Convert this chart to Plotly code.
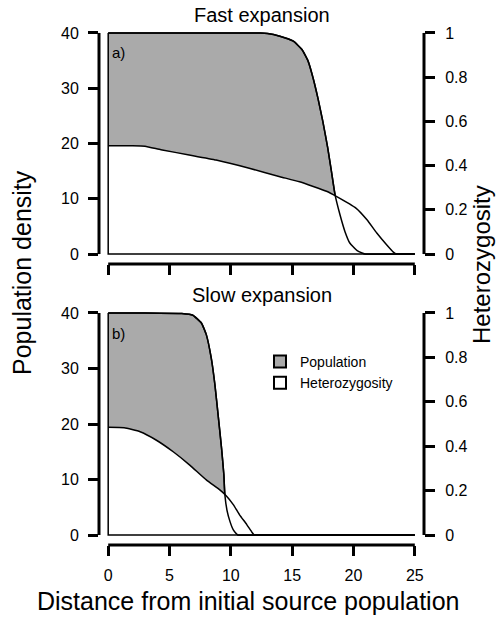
import plotly.graph_objects as go

# ---------------- data ----------------
x_ticks = [0, 5, 10, 15, 20, 25]
pop_ticks = [0, 10, 20, 30, 40]
het_ticks = [0, 0.2, 0.4, 0.6, 0.8, 1]
het_ticktext = ["0", "0.2", "0.4", "0.6", "0.8", "1"]

# Fast expansion (panel a)
fast_pop_x = [0, 5, 10, 12.4, 13.0, 14.0, 15.1, 15.8, 16.3, 16.7, 17.1, 17.5, 17.9,
              18.2, 18.5, 18.9, 19.3, 19.7, 20.3, 20.7, 21.0, 21.5, 25]
fast_pop_y = [40, 40, 40, 40, 39.9, 39.4, 38.5, 37.0, 34.9, 31.9, 28.2, 24.0, 19.2,
              15.0, 10.7, 7.1, 4.1, 2.0, 0.6, 0.2, 0, 0, 0]
fast_het_x = [0, 1, 2, 3, 4.3, 6.6, 8.8, 11.5, 14.0, 15.6, 17.8, 18.6, 20.2, 21.1,
              21.9, 22.7, 23.25, 23.5, 24.0, 25]
fast_het_y = [0.49, 0.49, 0.49, 0.488, 0.472, 0.448, 0.425, 0.388, 0.35, 0.327, 0.284,
              0.261, 0.208, 0.155, 0.095, 0.042, 0.009, 0, 0, 0]

# Slow expansion (panel b)
slow_pop_x = [0, 3, 6.0, 6.9, 7.6, 8.0, 8.4, 8.7, 8.96, 9.24, 9.43, 9.51, 9.7, 9.92,
              10.19, 10.46, 10.6, 11.1, 25]
slow_pop_y = [40, 40, 39.9, 39.6, 38.2, 36.1, 31.9, 27.1, 21.7, 15.7, 10.9, 7.3, 4.3,
              2.5, 0.96, 0.2, 0, 0, 0]
slow_het_x = [0, 1.3, 2.6, 3.9, 5.3, 6.65, 8.0, 9.1, 9.6, 10.2, 10.7, 11.3, 11.7, 11.9,
              12.4, 25]
slow_het_y = [0.485, 0.483, 0.465, 0.428, 0.375, 0.315, 0.248, 0.203, 0.178, 0.137,
              0.092, 0.047, 0.014, 0, 0, 0]

titles = ["Fast expansion", "Slow expansion"]
panel_labels = ["a)", "b)"]
legend_names = ["Population", "Heterozygosity"]

# ---------------- styling ----------------
W, H = 497, 617
FONT = "Liberation Sans, Arial, sans-serif"
GREY = "#aaaaaa"
LW = 1.5
SMOOTH = 0.4

fig = go.Figure()

panels = [
    (fast_pop_x, fast_pop_y, fast_het_x, fast_het_y, "x", ["y", "y2", "y3"]),
    (slow_pop_x, slow_pop_y, slow_het_x, slow_het_y, "x2", ["y4", "y5", "y6"]),
]
for px, py, hx, hy, xa, (ya_pop, ya_het, ya_line) in panels:
    ln = dict(color="black", width=LW, shape="spline", smoothing=SMOOTH)
    # population area (grey)
    fig.add_trace(go.Scatter(x=px, y=py, xaxis=xa, yaxis=ya_pop, mode="lines",
                             fill="tozeroy", fillcolor=GREY, line=ln, showlegend=False,
                             hoverinfo="skip"))
    # heterozygosity area (white, drawn over)
    fig.add_trace(go.Scatter(x=hx, y=hy, xaxis=xa, yaxis=ya_het, mode="lines",
                             fill="tozeroy", fillcolor="white", line=ln, showlegend=False,
                             hoverinfo="skip"))
    # population outline on top
    fig.add_trace(go.Scatter(x=px, y=py, xaxis=xa, yaxis=ya_line, mode="lines",
                             line=ln, showlegend=False, hoverinfo="skip"))
    # polygon edges: baseline and left side
    fig.add_trace(go.Scatter(x=[px[-1], px[0], px[0]], y=[0, 0, py[0]], xaxis=xa,
                             yaxis=ya_line, mode="lines",
                             line=dict(color="black", width=LW), showlegend=False,
                             hoverinfo="skip"))

# legend entries (square swatches)
for name, col in zip(legend_names, [GREY, "white"]):
    fig.add_trace(go.Scatter(x=[None], y=[None], xaxis="x2", yaxis="y4", mode="markers",
                             name=name,
                             marker=dict(symbol="square", size=10, color=col,
                                         line=dict(color="black", width=1.3))))

xdom = [99 / W, 424 / W]
ydoms = [[1 - 264 / H, 1 - 23 / H], [1 - 545 / H, 1 - 303 / H]]
yr = [-1.8, 41.8]
hr = [-0.045, 1.045]

tickfont = dict(family=FONT, size=16, color="black")
common_x = dict(domain=xdom, range=[-0.75, 25.75], tickvals=x_ticks, ticks="outside",
                ticklen=10, tickwidth=3, tickcolor="black", showgrid=False,
                zeroline=False, showline=False, tickfont=tickfont, fixedrange=True)
common_y = dict(range=yr, tickvals=pop_ticks, ticks="outside", ticklen=10, tickwidth=3,
                tickcolor="black", showgrid=False, zeroline=False, showline=False,
                tickfont=tickfont, ticklabelstandoff=6)
common_h = dict(range=hr, tickvals=het_ticks, ticktext=het_ticktext, ticks="outside",
                ticklen=10, tickwidth=3, tickcolor="black", showgrid=False,
                zeroline=False, showline=False, tickfont=tickfont, side="right",
                ticklabelstandoff=7)

fig.update_layout(
    width=W, height=H, margin=dict(l=0, r=0, t=0, b=0),
    paper_bgcolor="white", plot_bgcolor="rgba(0,0,0,0)",
    xaxis=dict(anchor="y", showticklabels=False, **common_x),
    xaxis2=dict(anchor="y4", showticklabels=True, ticklabelstandoff=6, **common_x),
    yaxis=dict(domain=ydoms[0], anchor="x", **common_y),
    yaxis2=dict(overlaying="y", anchor="x", **common_h),
    yaxis3=dict(overlaying="y", anchor="x", range=yr, visible=False),
    yaxis4=dict(domain=ydoms[1], anchor="x2", **common_y),
    yaxis5=dict(overlaying="y4", anchor="x2", **common_h),
    yaxis6=dict(overlaying="y4", anchor="x2", range=yr, visible=False),
    showlegend=True,
    legend=dict(x=260 / W, y=1 - 346 / H, xanchor="left", yanchor="top",
                bgcolor="rgba(0,0,0,0)", borderwidth=0,
                font=dict(family=FONT, size=14, color="black"),
                tracegroupgap=0, itemsizing="constant"),
)

# axis lines spanning only the tick range (R style)
shapes = []
for xa, ya, yh in [("x", "y", "y2"), ("x2", "y4", "y5")]:
    shapes.append(dict(type="line", xref=xa, yref=ya + " domain", x0=x_ticks[0],
                       x1=x_ticks[-1], y0=0, y1=0, line=dict(color="black", width=3)))
    shapes.append(dict(type="line", xref=xa + " domain", yref=ya, x0=0, x1=0,
                       y0=pop_ticks[0], y1=pop_ticks[-1], line=dict(color="black", width=3)))
    shapes.append(dict(type="line", xref=xa + " domain", yref=yh, x0=1, x1=1,
                       y0=het_ticks[0], y1=het_ticks[-1], line=dict(color="black", width=3)))
fig.update_layout(shapes=shapes)

ann = []
for t, yc in zip(titles, [15, 295]):
    ann.append(dict(text=t, x=261.5 / W, y=1 - yc / H, xref="paper", yref="paper",
                    showarrow=False, xanchor="center", yanchor="middle",
                    font=dict(family=FONT, size=20, color="black")))
for t, yc in zip(panel_labels, [53, 333]):
    ann.append(dict(text=t, x=110 / W, y=1 - yc / H, xref="paper", yref="paper",
                    showarrow=False, xanchor="left", yanchor="middle",
                    font=dict(family=FONT, size=15, color="black")))
ann.append(dict(text="Distance from initial source population", x=248 / W, y=1 - 601 / H,
                xref="paper", yref="paper", showarrow=False, xanchor="center",
                yanchor="middle", font=dict(family=FONT, size=25, color="black")))
ann.append(dict(text="Population density", x=22 / W, y=1 - 273 / H, xref="paper",
                yref="paper", showarrow=False, textangle=-90, xanchor="center",
                yanchor="middle", font=dict(family=FONT, size=25, color="black")))
ann.append(dict(text="Heterozygosity", x=481 / W, y=1 - 265 / H, xref="paper",
                yref="paper", showarrow=False, textangle=-90, xanchor="center",
                yanchor="middle", font=dict(family=FONT, size=24, color="black")))
fig.update_layout(annotations=ann)

fig.write_html("out.html")
